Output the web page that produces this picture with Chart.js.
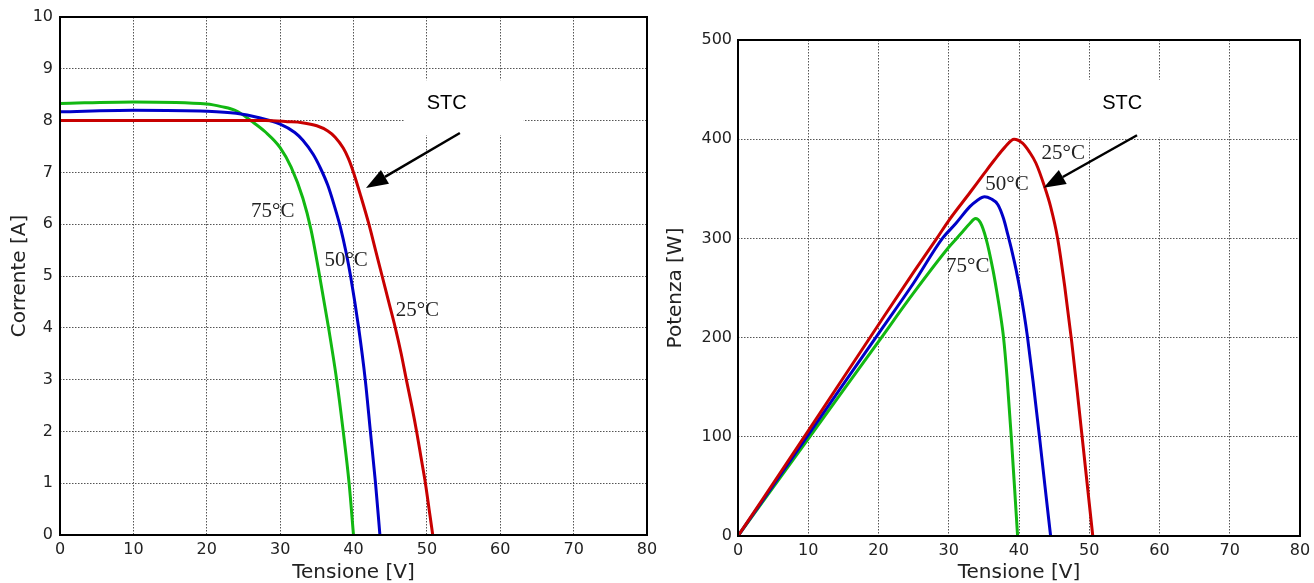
<!DOCTYPE html>
<html>
<head>
<meta charset="utf-8">
<script src="https://cdn.jsdelivr.net/npm/chart.js@4.4.1/dist/chart.umd.min.js"></script>
<style>
  body { margin: 0; background: #fff; }
  #wrap { position: relative; width: 1314px; height: 583px; }
  .box { position: absolute; top: 0; height: 583px; }
</style>
</head>
<body>
<div id="wrap">
  <div class="box" style="left:0;width:657px"><canvas id="ivChart" width="657" height="583"></canvas></div>
  <div class="box" style="left:657px;width:657px"><canvas id="pvChart" width="657" height="583"></canvas></div>
</div>
<script>
// curve I-V (Tensione [V] -> Corrente [A])
const ivTensione25 = [0, 10, 20, 28, 31, 33, 35, 36.5, 37.5, 38.6, 39.3, 40, 41, 42.1, 43, 43.9, 44.8, 45.7, 46.5, 47.2, 48, 48.6, 49.2, 49.8, 50.3, 50.8];
const ivCorrente25 = [8.0, 8.0, 8.0, 8.0, 7.98, 7.96, 7.9, 7.8, 7.68, 7.47, 7.27, 7.0, 6.54, 6.0, 5.5, 5.0, 4.5, 4.0, 3.5, 3.0, 2.45, 2.0, 1.5, 1.0, 0.5, 0];
const ivTensione50 = [0, 10, 20, 24, 27, 30, 32, 33.1, 34.5, 35.5, 36.5, 37.4, 38.2, 39.0, 39.6, 40.7, 41.6, 42.3, 43.0, 43.6];
const ivCorrente50 = [8.17, 8.2, 8.18, 8.14, 8.06, 7.93, 7.77, 7.62, 7.35, 7.08, 6.75, 6.35, 5.95, 5.45, 5.0, 4.0, 3.0, 2.0, 1.0, 0];
const ivTensione75 = [0, 10, 20, 22, 24, 26.2, 28, 30, 31.5, 33.1, 34.2, 35.2, 36.6, 37.7, 38.6, 39.4, 40];
const ivCorrente75 = [8.33, 8.36, 8.32, 8.27, 8.19, 7.98, 7.78, 7.48, 7.1, 6.5, 5.9, 5.15, 4.0, 3.0, 2.0, 1.0, 0];

// curve P-V (Tensione [V] -> Potenza [W])
const pvTensione25 = [0, 10, 20, 25, 28.3, 30, 33, 35, 36.5, 38, 39.3, 40.5, 41.5, 42.4, 43.6, 44.5, 45.5, 46.5, 47.5, 48.5, 49.5, 50.5];
const pvPotenza25 = [0, 106, 213, 266, 300, 318, 346, 365, 379, 392, 400, 396, 387, 376, 353, 332, 300, 252, 196, 132, 66, 0];
const pvTensione50 = [0, 10, 20, 25, 29.1, 31, 33, 34, 35.1, 36, 37, 37.8, 38.4, 39.0, 39.6, 40.2, 40.7, 41.2, 42.0, 42.9, 43.7, 44.5];
const pvPotenza50 = [0, 102, 204, 255, 300, 315, 332, 338, 342, 340, 334, 320, 304, 287, 268, 246, 225, 201, 156, 101, 50, 0];
const pvTensione75 = [0, 10, 20, 25, 30, 31, 32, 33, 33.8, 34.5, 35.3, 36.3, 36.8, 37.3, 37.8, 38.3, 38.9, 39.4, 39.8];
const pvPotenza75 = [0, 98, 196, 245, 291, 299, 307, 315, 320, 316, 300, 268, 248, 226, 200, 160, 100, 45, 0];

const temperature = ['25°C', '50°C', '75°C'];
const coloriCurve = ['#c80000', '#0000c8', '#12b812'];

function punti(xs, ys) {
    return xs.map((x, i) => ({ x: x, y: ys[i] }));
}

const notesPlugin = {
    id: 'notes',
    beforeDatasetsDraw(chart, args, opts) {
        const ctx = chart.ctx;
        const sx = chart.scales.x, sy = chart.scales.y;
        const b = opts.box;
        const x0 = sx.getPixelForValue(b[0]), x1 = sx.getPixelForValue(b[1]);
        const y0 = sy.getPixelForValue(b[2]), y1 = sy.getPixelForValue(b[3]);
        ctx.save();
        ctx.fillStyle = '#fff';
        ctx.fillRect(x0, y0, x1 - x0, y1 - y0);
        ctx.fillStyle = '#000';
        ctx.font = '20px "Liberation Sans", Arial, sans-serif';
        ctx.textAlign = 'center';
        ctx.textBaseline = 'middle';
        ctx.fillText('STC', sx.getPixelForValue(opts.stc[0]), sy.getPixelForValue(opts.stc[1]));
        ctx.restore();
    },
    afterDatasetsDraw(chart, args, opts) {
        const ctx = chart.ctx;
        const sx = chart.scales.x, sy = chart.scales.y;
        const a = chart.chartArea;
        ctx.save();
        // cornice
        ctx.strokeStyle = '#000';
        ctx.lineWidth = 2;
        ctx.strokeRect(a.left, a.top, a.right - a.left, a.bottom - a.top);
        // etichette temperatura
        ctx.fillStyle = '#222';
        ctx.font = '21px "Liberation Serif", "Times New Roman", serif';
        ctx.textAlign = 'center';
        ctx.textBaseline = 'middle';
        opts.labels.forEach((l, i) => {
            ctx.fillText(temperature[i], sx.getPixelForValue(l[0]), sy.getPixelForValue(l[1]));
        });
        // freccia STC
        const x0 = sx.getPixelForValue(opts.arrow[0]), y0 = sy.getPixelForValue(opts.arrow[1]);
        const x1 = sx.getPixelForValue(opts.arrow[2]), y1 = sy.getPixelForValue(opts.arrow[3]);
        const ang = Math.atan2(y1 - y0, x1 - x0);
        const head = 22, half = 8;
        const bx = x1 - head * Math.cos(ang), by = y1 - head * Math.sin(ang);
        ctx.strokeStyle = '#000';
        ctx.lineWidth = 2.5;
        ctx.beginPath();
        ctx.moveTo(x0, y0);
        ctx.lineTo(bx, by);
        ctx.stroke();
        ctx.fillStyle = '#000';
        ctx.beginPath();
        ctx.moveTo(x1, y1);
        ctx.lineTo(bx + half * Math.sin(ang), by - half * Math.cos(ang));
        ctx.lineTo(bx - half * Math.sin(ang), by + half * Math.cos(ang));
        ctx.closePath();
        ctx.fill();
        ctx.restore();
    }
};

function creaGrafico(id, serie, yMax, yStep, yTitolo, yWidth, padding, note) {
    const ctx = document.getElementById(id).getContext('2d');
    return new Chart(ctx, {
        type: 'scatter',
        data: {
            datasets: serie.map((s, i) => ({
                label: temperature[i],
                data: s,
                showLine: true,
                borderColor: coloriCurve[i],
                borderWidth: 3,
                pointRadius: 0,
                cubicInterpolationMode: 'monotone',
                fill: false
            }))
        },
        options: {
            responsive: false,
            animation: false,
            layout: { padding: padding },
            plugins: {
                legend: { display: false },
                tooltip: { enabled: false },
                notes: note
            },
            scales: {
                x: {
                    type: 'linear',
                    min: 0,
                    max: 80,
                    ticks: { stepSize: 10, color: '#222', padding: 5, maxRotation: 0, font: { family: 'DejaVu Sans', size: 16 } },
                    grid: { color: '#555', lineWidth: 1, drawTicks: false },
                    border: { display: false, dash: [1.5, 1.5] },
                    title: {
                        display: true,
                        text: 'Tensione [V]',
                        color: '#222',
                        font: { family: 'DejaVu Sans', size: 20, lineHeight: 1 },
                        padding: { top: 0, bottom: 0 }
                    },
                    afterFit: (scale) => {
                        scale.height = note.xAxisHeight;
                        scale.paddingLeft = 0;
                        scale.paddingRight = 0;
                    }
                },
                y: {
                    type: 'linear',
                    min: 0,
                    max: yMax,
                    ticks: { stepSize: yStep, color: '#222', padding: note.yTickPad, font: { family: 'DejaVu Sans', size: 16 } },
                    grid: { color: '#555', lineWidth: 1, drawTicks: false },
                    border: { display: false, dash: [1.5, 1.5] },
                    title: {
                        display: true,
                        text: yTitolo,
                        color: '#222',
                        font: { family: 'DejaVu Sans', size: 20, lineHeight: 1.2 },
                        padding: { top: note.yTitlePad, bottom: 0 }
                    },
                    afterFit: (scale) => { scale.width = yWidth; }
                }
            }
        },
        plugins: [notesPlugin]
    });
}

creaGrafico('ivChart',
    [punti(ivTensione25, ivCorrente25), punti(ivTensione50, ivCorrente50), punti(ivTensione75, ivCorrente75)],
    10, 1, 'Corrente [A]', 60,
    { top: 17, right: 10, bottom: 0, left: 0 },
    {
        xAxisHeight: 48, yTickPad: 7, yTitlePad: 8,
        labels: [[48.7, 4.34], [39.0, 5.29], [29.0, 6.24]],
        box: [46.9, 63.2, 8.78, 7.72],
        stc: [52.7, 8.34],
        arrow: [54.5, 7.76, 41.7, 6.70]
    });

creaGrafico('pvChart',
    [punti(pvTensione25, pvPotenza25), punti(pvTensione50, pvPotenza50), punti(pvTensione75, pvPotenza75)],
    500, 100, 'Potenza [W]', 81,
    { top: 40, right: 14, bottom: 0, left: 0 },
    {
        xAxisHeight: 47, yTickPad: 6, yTitlePad: 7,
        labels: [[46.3, 386], [38.3, 354], [32.7, 272]],
        box: [49.2, 65.3, 460, 402],
        stc: [54.7, 436],
        arrow: [56.8, 404, 43.5, 351]
    });
</script>
</body>
</html>
